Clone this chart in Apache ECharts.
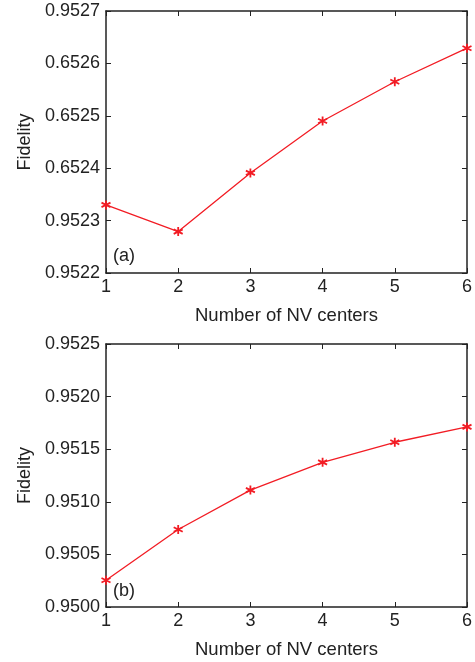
<!DOCTYPE html>
<html><head><meta charset="utf-8">
<script src="https://cdn.jsdelivr.net/npm/echarts@6/dist/echarts.min.js"></script>
<style>html,body{margin:0;padding:0;background:#fff}#c{width:475px;height:662px}</style>
</head><body><div id="c"></div>
<script>
const nvCenters = [1, 2, 3, 4, 5, 6];
const fidelityA = [0.95233, 0.952279, 0.952391, 0.95249, 0.952565, 0.952629];
const fidelityB = [0.950254, 0.950737, 0.951111, 0.951375, 0.951566, 0.951712];
const yTicksA = ['0.9522', '0.9523', '0.6524', '0.6525', '0.6526', '0.9527'];
const yTicksB = ['0.9500', '0.9505', '0.9510', '0.9515', '0.9520', '0.9525'];
const xTicks = ['1', '2', '3', '4', '5', '6'];
const xName = 'Number of NV centers';
const yName = 'Fidelity';
const panelLabels = ['(a)', '(b)'];

const FONT = '"Liberation Sans", Arial, sans-serif';
const TXT = '#222';
const AX = '#222';
const RED = '#f21c24';
const FS = 18;
const star = 'path://M0,-5L0,5M-4.3,-2.5L4.3,2.5M-4.3,2.5L4.3,-2.5';

const chart = echarts.init(document.getElementById('c'), null, {renderer: 'canvas'});

function xAxes(gi) {
  const base = {
    type: 'value', gridIndex: gi, min: 1, max: 6, interval: 1,
    axisLine: {show: true, onZero: false, lineStyle: {color: AX, width: 1.5}},
    axisTick: {show: true, inside: true, length: 5, lineStyle: {color: AX, width: 1}},
    splitLine: {show: false}
  };
  return [
    Object.assign({}, base, {
      position: 'bottom',
      axisLabel: {show: true, color: TXT, fontFamily: FONT, fontSize: FS, margin: 5,
        formatter: v => xTicks[Math.round(v) - 1]},
      name: xName, nameLocation: 'middle', nameGap: 33,
      nameTextStyle: {color: TXT, fontFamily: FONT, fontSize: 18.5}
    }),
    Object.assign({}, base, {position: 'top', axisLabel: {show: false}})
  ];
}
function yAxes(gi, min, max, step, labels) {
  const base = {
    type: 'value', gridIndex: gi, min: min, max: max, interval: step,
    axisLine: {show: true, onZero: false, lineStyle: {color: AX, width: 1.5}},
    axisTick: {show: true, inside: true, length: 5, lineStyle: {color: AX, width: 1}},
    splitLine: {show: false}
  };
  return [
    Object.assign({}, base, {
      position: 'left',
      axisLabel: {show: true, color: TXT, fontFamily: FONT, fontSize: FS, margin: 6,
        formatter: v => labels[Math.round((v - min) / step)]},
      name: yName, nameLocation: 'middle', nameGap: 72,
      nameTextStyle: {color: TXT, fontFamily: FONT, fontSize: 18}
    }),
    Object.assign({}, base, {position: 'right', axisLabel: {show: false}})
  ];
}
function series(gi, data) {
  return {
    type: 'line', xAxisIndex: gi * 2, yAxisIndex: gi * 2,
    data: nvCenters.map((x, i) => [x, data[i]]),
    symbol: star, symbolSize: 9, showSymbol: true, clip: false,
    lineStyle: {color: RED, width: 1.3},
    itemStyle: {color: 'rgba(0,0,0,0)', borderColor: RED, borderWidth: 1.8},
    emphasis: {disabled: true}, animation: false
  };
}

chart.setOption({
  animation: false,
  backgroundColor: '#fff',
  grid: [
    {left: 106, top: 11, width: 364, height: 262},
    {left: 106, top: 344, width: 364, height: 263}
  ],
  xAxis: [...xAxes(0), ...xAxes(1)],
  yAxis: [...yAxes(0, 0.9522, 0.9527, 0.0001, yTicksA), ...yAxes(1, 0.9500, 0.9525, 0.0005, yTicksB)],
  series: [series(0, fidelityA), series(1, fidelityB)],
  graphic: [
    {type: 'text', left: 113, top: 247, style: {text: panelLabels[0], fill: TXT, font: '18px ' + FONT}},
    {type: 'text', left: 113, top: 582, style: {text: panelLabels[1], fill: TXT, font: '18px ' + FONT}}
  ]
});
</script>
</body></html>
